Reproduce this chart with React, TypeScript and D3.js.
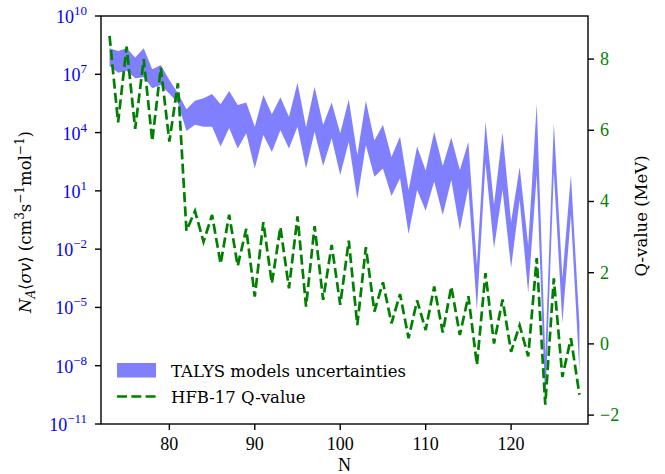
import React from 'react';
import * as d3 from 'd3';

const neutrons = [73, 74, 75, 76, 77, 78, 79, 80, 81, 82, 83, 84, 85, 86, 87, 88, 89, 90, 91, 92, 93, 94, 95, 96, 97, 98, 99, 100, 101, 102, 103, 104, 105, 106, 107, 108, 109, 110, 111, 112, 113, 114, 115, 116, 117, 118, 119, 120, 121, 122, 123, 124, 125, 126, 127, 128];

const rateUpper = [2.2e8, 1.6e8, 2.2e8, 7.4e7, 2.2e8, 1.8e7, 3.0e7, 5.1e6, 1.1e6, 1.6e5,
  4.4e5, 5.8e5, 9.8e5, 2.9e5, 1.4e6, 2.6e5, 3.5e5, 2.0e4, 8.5e5, 8.7e4,
  6.6e5, 6.6e4, 3.7e6, 1.9e4, 2.3e6, 2.5e4, 3.5e5, 9.1e3, 5.1e5, 7.1e2,
  4.4e5, 3.9e3, 2.5e4, 5.5e2, 6.2e3, 11, 1.9e3, 1.1e2, 1.1e4, 1.9e2,
  5.6e3, 1.2e2, 3.3e3, 1.5e-3, 3.6e4, 1.9, 9.8e3, 0.25, 1.7e2, 1.6e-2,
  3.0e5, 3.5e-8, 3.1e4, 3.3e-4, 66, 1.3e-6];

const rateLower = [2.7e7, 1.2e7, 1.5e7, 6.2e6, 7.1e6, 1.9e6, 2.8e6, 1.0e6, 3.3e5, 1.2e4,
  2.5e4, 2.0e4, 2.0e4, 1.9e3, 1.7e4, 1.5e3, 9.1e3, 1.4e2, 7.6e3, 1.0e3,
  1.3e4, 1.5e3, 2.0e4, 1.4e2, 1.1e4, 1.9e2, 5.1e3, 66, 3.4e3, 3.7,
  2.3e3, 54, 1.4e2, 5.5, 45, 6.0e-2, 11, 0.95, 30, 0.58,
  36, 9.8e-2, 16, 7.4e-6, 2.7e2, 1.1e-2, 11, 1.1e-3, 3.4, 5.5e-5,
  66, 1.2e-10, 93, 1.6e-6, 0.58, 4.8e-9];

const qValue = [8.65, 6.22, 8.35, 6.04, 8.0, 5.70, 7.76, 5.68, 7.32, 3.18,
  3.73, 2.87, 3.62, 2.25, 3.63, 2.19, 3.23, 1.33, 3.42, 1.70,
  3.28, 1.56, 3.58, 1.05, 3.31, 1.24, 2.78, 1.1, 2.90, 0.53,
  2.72, 0.91, 1.73, 0.58, 1.40, 0.16, 1.22, 0.39, 1.61, 0.32,
  1.61, 0.25, 1.34, -0.59, 1.99, 0.01, 1.25, -0.22, 0.52, -0.35,
  2.41, -1.71, 1.84, -0.93, 0.16, -1.43];

const xTicks = [80, 90, 100, 110, 120];
const leftTickExponents = [-11, -8, -5, -2, 1, 4, 7, 10];
const rightTicks = [-2, 0, 2, 4, 6, 8];
const legendLabels = ['TALYS models uncertainties', 'HFB-17 Q-value'];

const W = 665, H = 474;
const L = 101, R = 588, T = 16, B = 424;
const NUMFONT = '"Liberation Serif", "DejaVu Serif", serif';
const TXTFONT = '"DejaVu Serif", "Liberation Serif", serif';
const FS = 18;
const TFS = 16.5;
const BAND = '#8080ff';
const GREEN = '#008000';
const LEFT_BLUE = '#0000ff';
const fmtMinus = (v: number) => (v < 0 ? '\u2212' + Math.abs(v) : String(v));

export default function App() {
  const x = d3.scaleLinear().domain([72, 129]).range([L, R]);
  const yL = d3.scaleLog().domain([1e-11, 1e10]).range([B, T]);
  const yR = d3.scaleLinear().domain([-2.25, 9.21]).range([B, T]);

  const rows = neutrons.map((n, i) => ({ n, lo: rateLower[i], hi: rateUpper[i], q: qValue[i] }));
  const area = d3.area<any>().x(d => x(d.n)).y0(d => yL(d.lo)).y1(d => yL(d.hi));
  const line = d3.line<any>().x(d => x(d.n)).y(d => yR(d.q));

  return (
    <svg width={W} height={H} style={{ position: 'absolute', left: 0, top: 0, background: '#fff' }}
      fontFamily={NUMFONT}>
      <defs>
        <clipPath id="plotclip"><rect x={L} y={T} width={R - L} height={B - T} /></clipPath>
      </defs>
      <rect x={0} y={0} width={W} height={H} fill="#fff" />
      <g clipPath="url(#plotclip)">
        <path d={area(rows) || ''} fill={BAND} stroke="none" />
        <path d={line(rows) || ''} fill="none" stroke={GREEN} strokeWidth={2.7} strokeDasharray="10,4.3" />
      </g>
      <rect x={L} y={T} width={R - L} height={B - T} fill="none" stroke="#000" strokeWidth={1.4} />
      {xTicks.map(t => (
        <g key={'x' + t}>
          <line x1={x(t)} x2={x(t)} y1={B} y2={B + 6} stroke="#000" strokeWidth={1.4} />
          <text x={x(t)} y={B + 26} textAnchor="middle" fontSize={FS} fill="#000">{t}</text>
        </g>
      ))}
      <text x={(L + R) / 2} y={471} textAnchor="middle" fontSize={FS} fill="#000">N</text>
      {leftTickExponents.map(e => {
        const yy = yL(Math.pow(10, e));
        return (
          <g key={'l' + e}>
            <line x1={L - 6} x2={L} y1={yy} y2={yy} stroke="#000" strokeWidth={1.4} />
            <text x={87} y={yy + 7} textAnchor="end" fontSize={FS} fill={LEFT_BLUE}>
              10<tspan dy={-8} fontSize={13}>{fmtMinus(e)}</tspan>
            </text>
          </g>
        );
      })}
      {rightTicks.map(t => {
        const yy = yR(t);
        return (
          <g key={'r' + t}>
            <line x1={R} x2={R + 6} y1={yy} y2={yy} stroke="#000" strokeWidth={1.4} />
            <text x={600} y={yy + 6} textAnchor="start" fontSize={FS} fill={GREEN}>{fmtMinus(t)}</text>
          </g>
        );
      })}
      <text transform={`translate(31,${(T + B) / 2 + 2}) rotate(-90)`} textAnchor="middle" fontSize={TFS} fill="#000" fontFamily={TXTFONT}>
        <tspan fontStyle="italic">N</tspan>
        <tspan fontStyle="italic" fontSize={12} dy={4}>A</tspan>
        <tspan dy={-4}>{'\u27E8'}</tspan>
        <tspan fontStyle="italic">{'\u03C3v'}</tspan>
        <tspan>{'\u27E9 (cm'}</tspan>
        <tspan fontSize={12} dy={-7}>3</tspan>
        <tspan dy={7}>s</tspan>
        <tspan fontSize={12} dy={-7}>{'\u22121'}</tspan>
        <tspan dy={7}>mol</tspan>
        <tspan fontSize={12} dy={-7}>{'\u22121'}</tspan>
        <tspan dy={7}>)</tspan>
      </text>
      <text transform={`translate(647,${(T + B) / 2 - 4}) rotate(-90)`} textAnchor="middle" fontSize={TFS} fill="#000" fontFamily={TXTFONT}>
        Q-value (MeV)
      </text>
      <rect x={117} y={363} width={39} height={14.5} fill={BAND} />
      <text x={171} y={376.5} fontSize={TFS} fill="#000" fontFamily={TXTFONT}>{legendLabels[0]}</text>
      <line x1={117} x2={156} y1={396.5} y2={396.5} stroke={GREEN} strokeWidth={2.7} strokeDasharray="10,4.3" />
      <text x={171} y={402.5} fontSize={TFS} fill="#000" fontFamily={TXTFONT}>{legendLabels[1]}</text>
    </svg>
  );
}
